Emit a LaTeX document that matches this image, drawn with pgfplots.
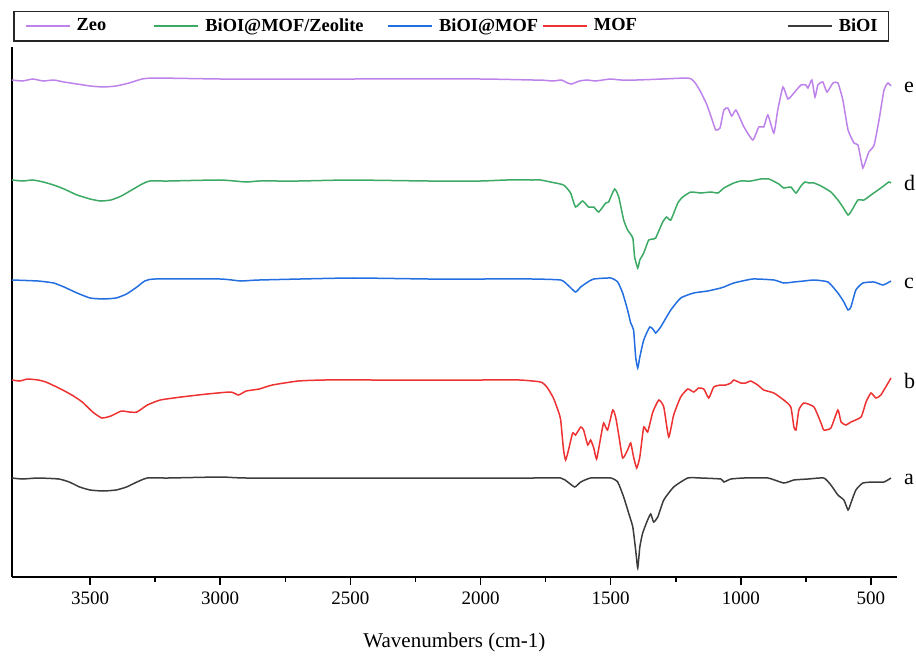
\documentclass[border=0pt]{standalone}
\usepackage{fontspec}
\setmainfont{Liberation Serif}
\usepackage{pgfplots}
\pgfplotsset{compat=1.18}

\definecolor{czeo}{RGB}{190,130,235}
\definecolor{cmix}{RGB}{60,170,100}
\definecolor{cbm}{RGB}{35,110,225}
\definecolor{cmof}{RGB}{238,50,50}
\definecolor{cbi}{RGB}{60,60,60}

\begin{document}
\begin{tikzpicture}
\begin{axis}[
  width=442.5pt, height=265pt, scale only axis,
  x dir=reverse, xmin=400, xmax=3800, ymin=0, ymax=530,
  axis x line*=bottom, axis y line*=left,
  axis line style={-, line width=1pt},
  ytick=\empty,
  xtick={500,1000,...,3500}, minor x tick num=1,
  tick align=outside, major tick length=4pt, minor tick length=2.5pt,
  tick style={black, line width=0.8pt},
  /pgf/number format/assume math mode=true,
  /pgf/number format/1000 sep={},
  tick label style={font=\fontsize{9.5}{11}\selectfont},
  xlabel={Wavenumbers (cm-1)},
  xlabel style={font=\fontsize{10.5}{13}\selectfont, yshift=-7pt},
  clip=false,
  legend columns=5,
  legend image code/.code={\draw[#1, line width=0.9pt] (0pt,0pt) -- (22pt,0pt);},
  legend style={at={(0,1)}, anchor=south west, xshift=0.5pt, yshift=2.5pt,
    draw=black!85, line width=0.8pt, inner xsep=5.5pt, inner ysep=2.5pt,
    font=\fontsize{9.2}{11}\selectfont\bfseries,
    nodes={inner xsep=0pt, inner ysep=1pt},
    /tikz/every odd column/.append style={column sep=3pt},
    /tikz/every even column/.append style={column sep=0pt}},
  every axis plot/.append style={line width=0.75pt, smooth, tension=0.3},
]
% e: Zeo
\addplot[czeo] coordinates {
(3800,497)(3760,496)(3720,498)(3680,496)(3640,497)(3600,495)(3550,493)(3500,491)
(3450,490)(3400,491)(3350,494)(3300,498)(3250,499)(3000,498)(2800,498)(2500,498)
(2000,498)(1800,497)(1769,497)(1720,496)(1690,497)(1665,494)(1650,493)(1620,496)
(1590,497)(1560,496)(1530,497)(1500,498)(1460,497)(1400,497)(1300,498)(1210,499)
(1190,498)(1175,494)(1154,485)(1130,472)(1110,457)(1096,447)(1080,449)(1065,467)
(1050,469)(1035,461)(1019,467)(1000,457)(988,450)(954,437)(931,450)(912,450)
(896,462)(873,444)(858,467)(838,490)(819,478)(796,484)(769,492)(750,492)(742,489)
(727,497)(715,480)(704,492)(685,495)(669,485)(646,494)(627,494)(608,477)(588,447)
(565,434)(550,432)(538,417)(531,409)(519,417)(508,425)(488,432)(469,457)(450,487)
(435,494)(423,491)};
\addlegendentry{\makebox[38.5pt][l]{Zeo}}
% d: BiOI@MOF/Zeolite
\addplot[cmix] coordinates {
(3800,397)(3760,396)(3720,397)(3680,395)(3640,392)(3600,388)(3550,382)(3500,378)
(3460,376)(3420,377)(3380,381)(3340,387)(3300,393)(3270,396)(3200,396)(3000,397)
(2900,395)(2850,396)(2700,396)(2500,397)(2200,396)(2000,396)(1900,397)(1800,397)
(1769,397)(1731,395)(1681,392)(1654,384)(1635,370)(1608,376)(1585,370)(1565,370)
(1546,365)(1519,374)(1508,375)(1485,388)(1469,380)(1450,357)(1435,347)(1415,339)
(1408,320)(1396,309)(1388,317)(1373,324)(1354,337)(1335,338)(1327,339)(1300,355)
(1285,360)(1269,357)(1242,374)(1223,380)(1192,385)(1154,384)(1115,385)(1088,384)
(1065,389)(1027,394)(1000,396)(962,396)(923,398)(892,398)(854,393)(835,389)
(808,390)(788,384)(769,391)(754,395)(738,394)(719,394)(692,391)(654,385)(627,377)
(608,370)(588,362)(573,367)(550,377)(527,377)(500,382)(462,389)(431,395)(423,394)};
\addlegendentry{\makebox[91pt][l]{BiOI@MOF/Zeolite}}
% c: BiOI@MOF
\addplot[cbm] coordinates {
(3800,297)(3700,296)(3640,294)(3600,290)(3550,284)(3500,279)(3450,278)(3400,279)
(3360,283)(3320,290)(3290,296)(3250,298)(3000,298)(2920,296)(2850,297)(2500,299)
(2200,298)(2000,298)(1800,298)(1692,297)(1665,292)(1635,285)(1615,290)(1588,295)
(1565,298)(1500,299)(1473,295)(1454,284)(1435,267)(1423,254)(1412,247)(1404,220)
(1396,209)(1388,220)(1373,237)(1350,250)(1335,247)(1327,244)(1308,250)(1269,267)
(1231,279)(1181,284)(1127,286)(1077,289)(1065,290)(1027,294)(954,298)(873,297)
(835,294)(796,295)(758,296)(719,297)(665,295)(627,284)(604,275)(588,267)(577,270)
(558,287)(531,294)(488,295)(454,292)(423,296)};
\addlegendentry{\makebox[51.5pt][l]{BiOI@MOF}}
% b: MOF
\addplot[cmof] coordinates {
(3800,197)(3770,196)(3740,198)(3700,197)(3670,195)(3620,189)(3570,182)(3530,175)
(3490,165)(3455,159)(3420,161)(3380,166)(3350,165)(3320,165)(3280,172)(3230,177)
(3150,180)(3050,183)(2960,185)(2930,182)(2900,186)(2850,188)(2800,192)(2700,196)
(2600,197)(2400,197)(2200,197)(2000,197)(1850,197)(1769,195)(1745,190)(1720,179)
(1700,165)(1692,157)(1681,127)(1673,117)(1662,127)(1646,144)(1635,142)(1615,150)
(1604,147)(1588,132)(1577,137)(1565,129)(1554,118)(1538,140)(1527,154)(1512,147)
(1492,167)(1481,160)(1469,142)(1454,119)(1435,127)(1423,134)(1412,120)(1400,109)
(1388,120)(1373,150)(1358,145)(1338,165)(1315,177)(1296,170)(1277,140)(1258,162)
(1231,180)(1204,188)(1181,185)(1162,189)(1142,188)(1123,179)(1104,190)(1077,192)
(1058,192)(1038,194)(1027,197)(1000,194)(981,194)(962,196)(935,192)(912,187)
(873,184)(835,177)(808,170)(796,150)(788,147)(777,167)(758,174)(719,170)(692,154)
(681,147)(654,149)(627,167)(615,155)(596,152)(577,155)(538,160)(519,175)(500,184)
(481,179)(462,182)(423,199)};
\addlegendentry{\makebox[96.5pt][l]{MOF}}
% a: BiOI
\addplot[cbi] coordinates {
(3800,99)(3760,98)(3700,99)(3620,98)(3580,95)(3540,90)(3500,87)(3450,86)(3400,87)
(3360,90)(3320,95)(3280,99)(3200,99)(3000,100)(2900,99)(2500,99)(2000,99)(1800,99)
(1692,99)(1665,95)(1638,90)(1615,95)(1577,99)(1500,99)(1473,95)(1450,80)(1431,64)
(1415,50)(1404,27)(1396,9)(1388,30)(1377,44)(1358,57)(1346,63)(1335,55)(1319,60)
(1296,77)(1258,90)(1204,99)(1154,99)(1077,98)(1065,95)(1038,98)(988,99)(896,99)
(835,94)(796,97)(742,98)(681,99)(654,92)(627,82)(604,77)(588,67)(577,74)(558,87)
(531,94)(488,95)(450,95)(423,99)};
\addlegendentry{BiOI}
\begin{scope}[font=\fontsize{11}{13}\selectfont]
\node[anchor=west] at (axis cs:400,490) {e};
\node[anchor=west] at (axis cs:400,394) {d};
\node[anchor=west] at (axis cs:400,294) {c};
\node[anchor=west] at (axis cs:400,196) {b};
\node[anchor=west] at (axis cs:400,98) {a};
\end{scope}
\coordinate (ll) at (rel axis cs:0,0);
\coordinate (ur) at (rel axis cs:1,1);
\end{axis}
\pgfresetboundingbox
\path[use as bounding box] ([xshift=-6pt,yshift=-41.5pt]ll) rectangle ([xshift=9.5pt,yshift=23.5pt]ur);
\end{tikzpicture}
\end{document}
